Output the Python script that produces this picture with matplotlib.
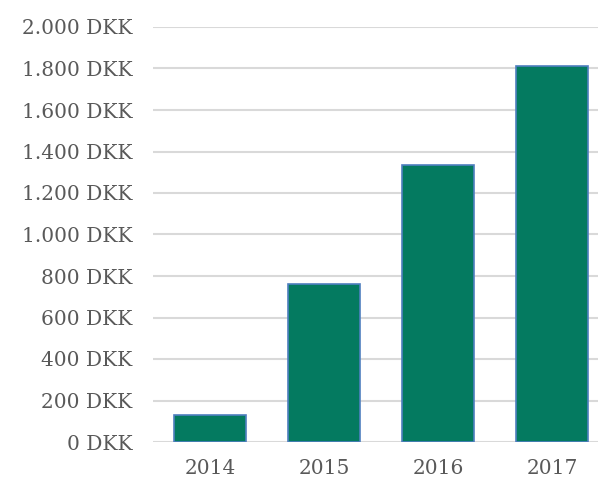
import matplotlib.pyplot as plt
from matplotlib.ticker import FuncFormatter

years = ["2014", "2015", "2016", "2017"]
values = [130, 762, 1335, 1812]
yticks = list(range(0, 2001, 200))

fig = plt.figure(figsize=(5.98, 4.83), dpi=100)
ax = fig.add_axes([153 / 598, 41 / 483, 456 / 598, 415 / 483])

ax.bar(range(len(years)), values, width=0.63, color="#047a60",
       edgecolor="#4f7fbf", linewidth=1.2, zorder=3)

ax.set_xlim(-0.5, len(years) - 0.5)
ax.set_ylim(0, 2000)
ax.set_yticks(yticks)
ax.yaxis.set_major_formatter(FuncFormatter(
    lambda v, p: "{:,.0f} DKK".format(v).replace(",", ".")))
ax.set_xticks(range(len(years)))
ax.set_xticklabels(years)

ax.grid(axis="y", color="#d9d9d9", linewidth=1.5, zorder=0)
for s in ax.spines.values():
    s.set_visible(False)
ax.tick_params(length=0, labelsize=14.5, labelcolor="#595959")
ax.tick_params(axis="y", pad=15)
ax.tick_params(axis="x", pad=12)
for lbl in ax.get_xticklabels() + ax.get_yticklabels():
    lbl.set_fontfamily("DejaVu Serif")

fig.savefig("out.png", dpi=100)
